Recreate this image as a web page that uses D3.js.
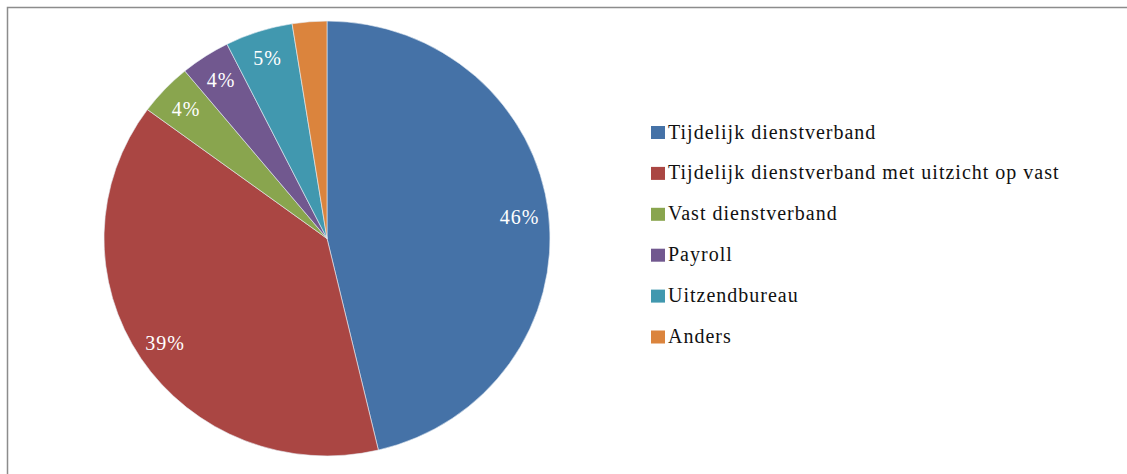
<!DOCTYPE html>
<html>
<head>
<meta charset="utf-8">
<script src="https://cdn.jsdelivr.net/npm/d3@7"></script>
<style>
  body { margin: 0; background: #fff; }
</style>
</head>
<body>
<div id="chart"></div>
<script>
const categories = [
  "Tijdelijk dienstverband",
  "Tijdelijk dienstverband met uitzicht op vast",
  "Vast dienstverband",
  "Payroll",
  "Uitzendbureau",
  "Anders"
];
const values = [46.3, 38.8, 3.9, 3.6, 4.9, 2.5];
const labels = ["46%", "39%", "4%", "4%", "5%", ""];
const colors = ["#4572A7", "#AA4643", "#89A54E", "#71588F", "#4198AF", "#DB843D"];

const W = 1127, H = 474;
const CX = 327, CY = 238.5, R = 223, SY = 0.975;
const FONT = "'Liberation Serif'";

const svg = d3.select("#chart")
  .append("svg")
    .attr("width", W)
    .attr("height", H);

// chart area frame (right and bottom edges run off the picture)
svg.append("rect")
  .attr("x", 7.5).attr("y", 7.5)
  .attr("width", W + 20).attr("height", H + 20)
  .attr("fill", "none")
  .attr("stroke", "#8c8c8c")
  .attr("stroke-width", 1.5);

const data = categories.map((c, i) => ({ name: c, value: values[i], label: labels[i], color: colors[i] }));

const pie = d3.pie().value(d => d.value).sort(null);
const arc = d3.arc().innerRadius(0).outerRadius(R);
const labelArc = d3.arc().innerRadius(R * 0.87).outerRadius(R * 0.87);

const arcs = pie(data);

const g = svg.append("g")
  .attr("transform", `translate(${CX}, ${CY}) scale(1, ${SY})`);

g.selectAll("path")
  .data(arcs)
  .join("path")
    .attr("d", arc)
    .attr("fill", d => d.data.color)
    .attr("stroke", "#e8eef5")
    .attr("stroke-width", 0.6);

svg.append("g")
  .attr("transform", `translate(${CX}, ${CY})`)
  .selectAll("text")
  .data(arcs)
  .join("text")
    .attr("x", d => labelArc.centroid(d)[0])
    .attr("y", d => labelArc.centroid(d)[1] * SY)
    .attr("dy", "0.35em")
    .attr("text-anchor", "middle")
    .attr("fill", "#fff")
    .attr("font-family", FONT)
    .attr("font-size", 20)
    .attr("letter-spacing", 1)
    .text(d => d.data.label);

const legend = svg.append("g")
  .attr("transform", "translate(651, 126)");

const rowH = 40.9;
const item = legend.selectAll("g")
  .data(data)
  .join("g")
    .attr("transform", (d, i) => `translate(0, ${i * rowH})`);

item.append("rect")
  .attr("width", 14)
  .attr("height", 13)
  .attr("fill", d => d.color);

item.append("text")
  .attr("x", 17)
  .attr("y", 12.5)
  .attr("fill", "#111")
  .attr("font-family", FONT)
  .attr("font-size", 20)
  .attr("letter-spacing", 1)
  .text(d => d.name);
</script>
</body>
</html>
